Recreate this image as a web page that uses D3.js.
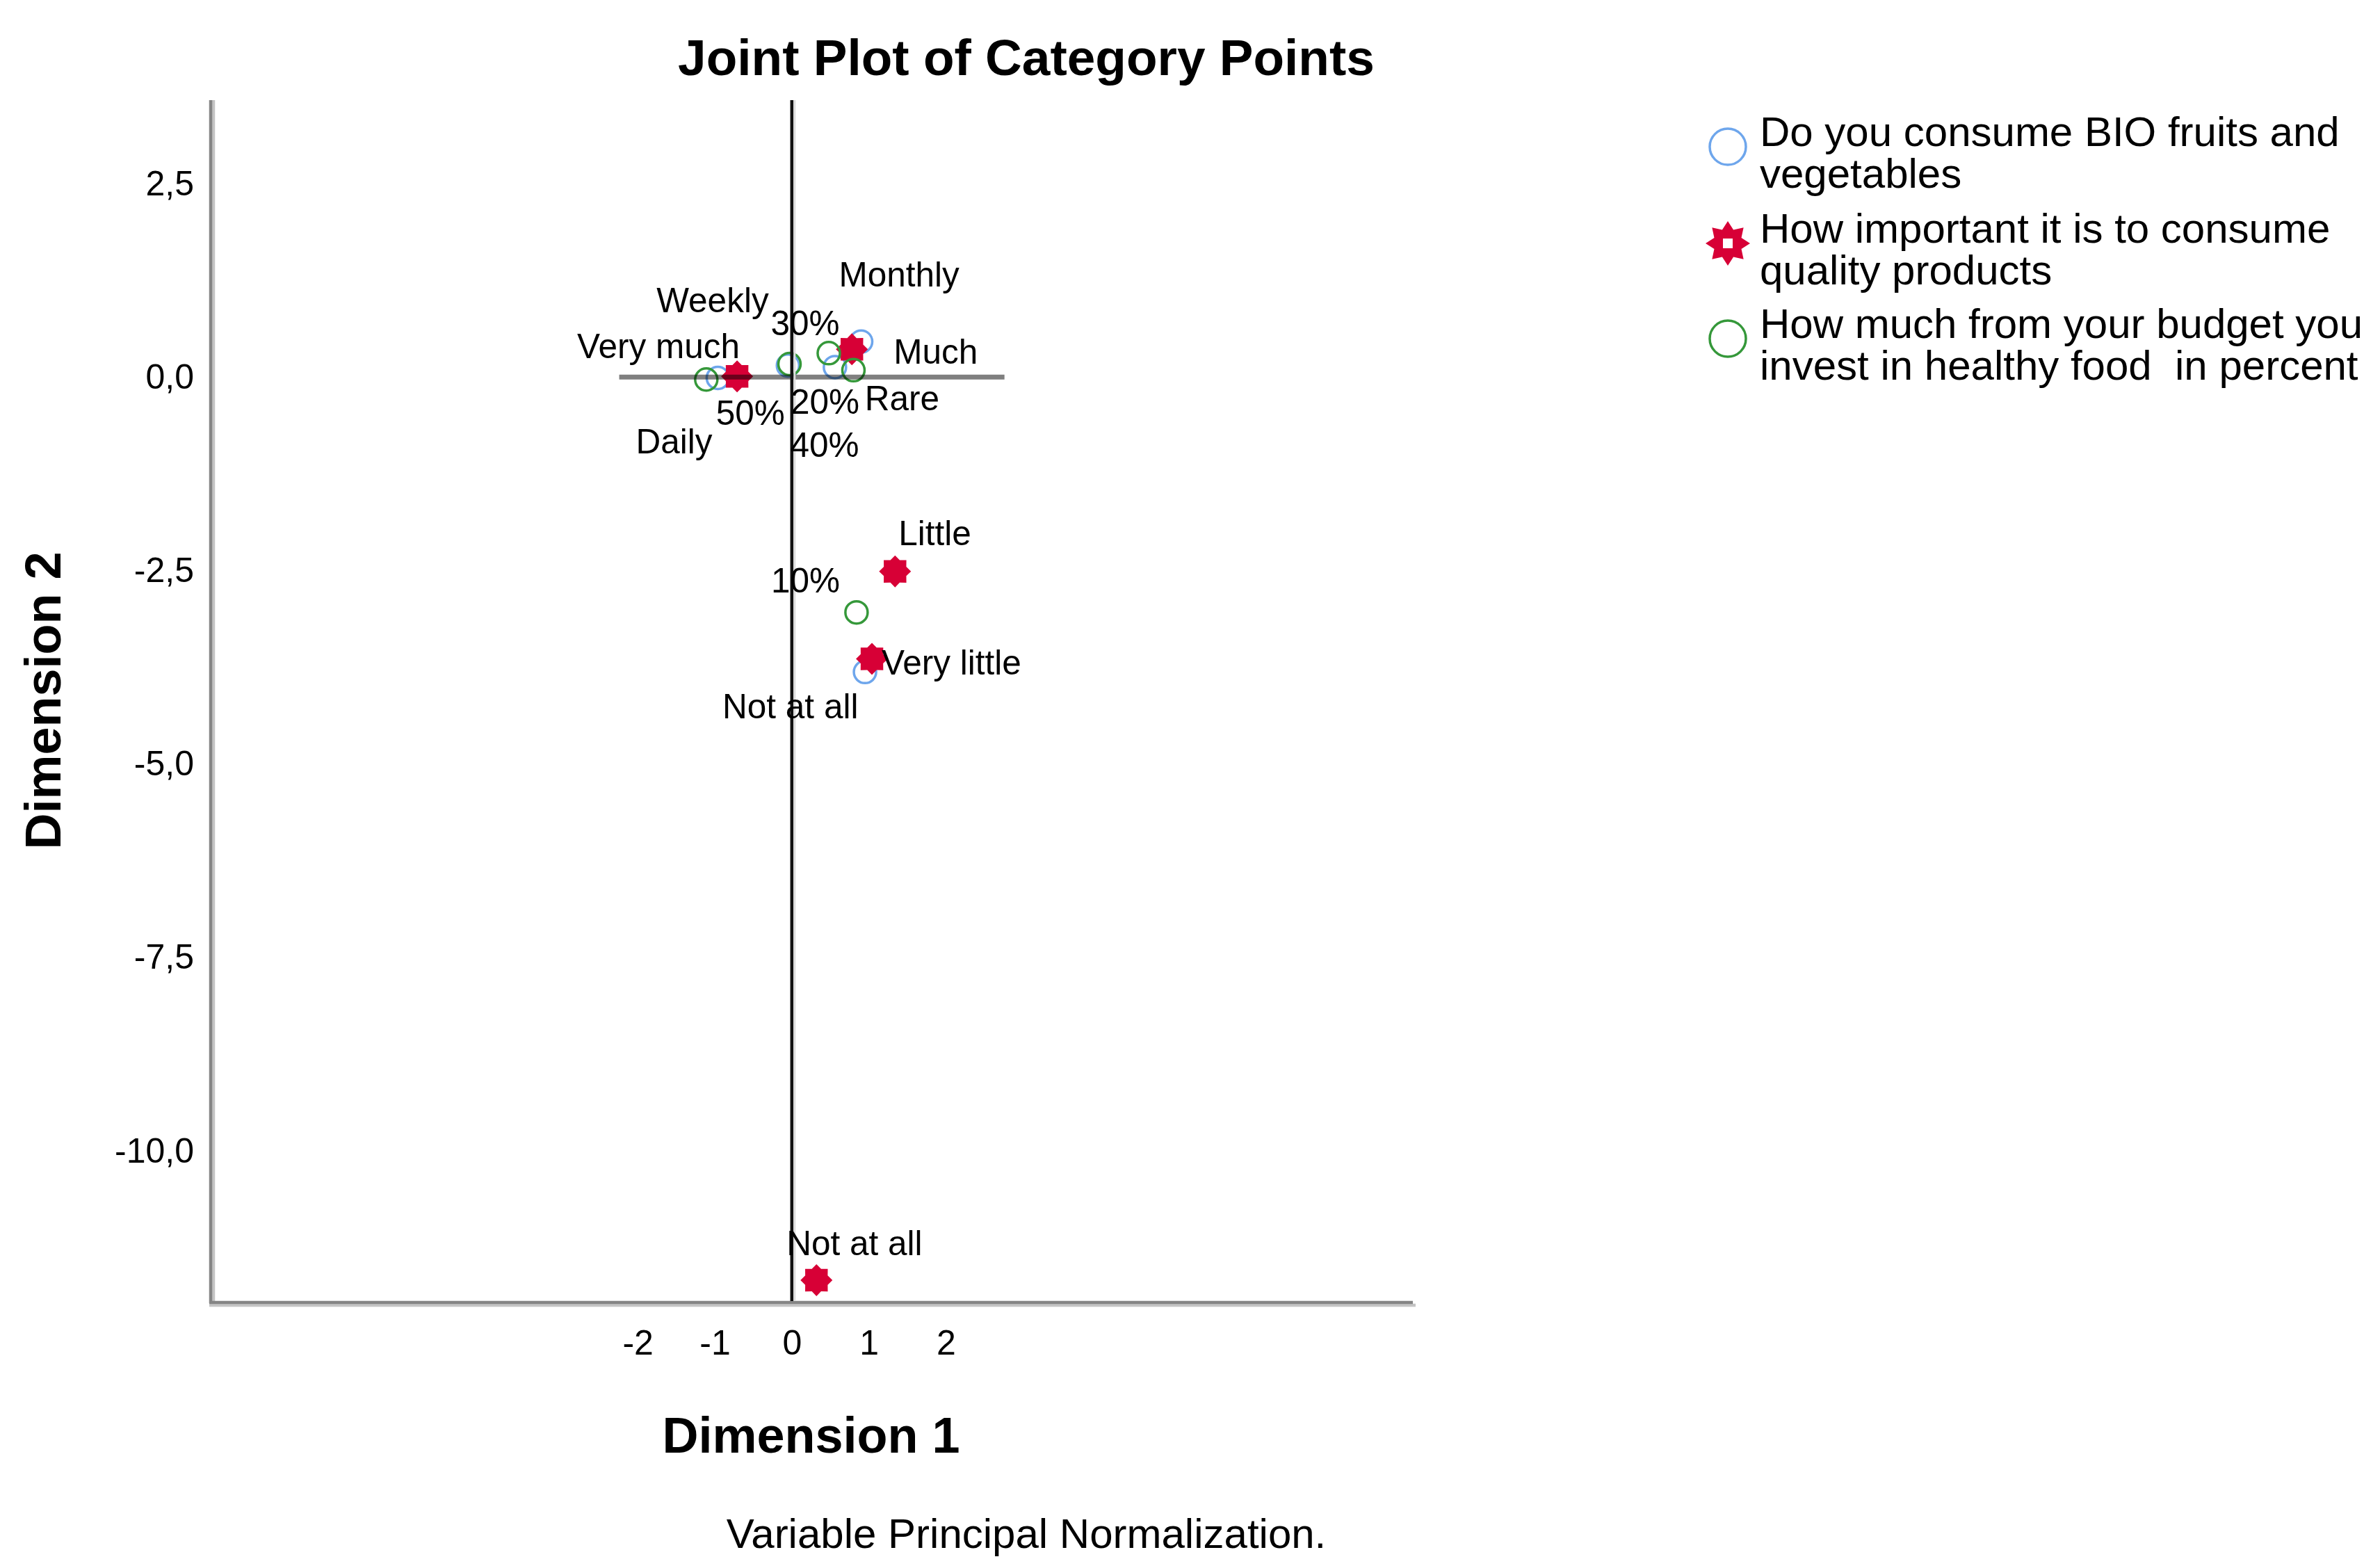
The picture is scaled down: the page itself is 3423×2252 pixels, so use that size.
<!DOCTYPE html>
<html>
<head>
<meta charset="utf-8">
<script src="https://cdn.jsdelivr.net/npm/d3@7"></script>
<style>
  body { margin: 0; background: #fff; }
  svg { display: block; font-family: "Liberation Sans", Arial, sans-serif; }
  text { white-space: pre; }
</style>
</head>
<body>
<script>
var width = 3423, height = 2252;

// Do you consume BIO fruits and vegetables
var bioCats = ["Daily", "Weekly", "Monthly", "Rare", "Not at all"];
var bioDim1 = [-0.96, -0.05, 0.90, 0.56, 0.95];
var bioDim2 = [-0.01, 0.15, 0.46, 0.13, -3.81];

// How important it is to consume quality products
var impCats = ["Very much", "Much", "Little", "Very little", "Not at all"];
var impDim1 = [-0.71, 0.78, 1.34, 1.04, 0.32];
var impDim2 = [0.01, 0.36, -2.51, -3.64, -11.67];

// How much from your budget you invest in healthy food in percent
var budCats = ["10%", "20%", "30%", "40%", "50%"];
var budDim1 = [0.84, 0.48, -0.03, 0.80, -1.11];
var budDim2 = [-3.04, 0.31, 0.17, 0.09, -0.03];

var xTicks = [-2, -1, 0, 1, 2];
var yTicks = [2.5, 0, -2.5, -5, -7.5, -10];
var xDomain = [-7.56, 8.06];
var yDomain = [-11.94, 3.58];
var refLineDim1 = [-2.24, 2.76];   // extent of the horizontal line at dimension 2 = 0

var legendLabels = [
    ["Do you consume BIO fruits and", "vegetables"],
    ["How important it is to consume", "quality products"],
    ["How much from your budget you", "invest in healthy food  in percent"]
];

// label placement (px from point: left edge, vertical centre) - SPSS put them by hand-ish
var bioLabelOff = [[-118, 91], [-189, -94], [-32, -97], [43, 44], [-205, 49]];
var impLabelOff = [[-230, -44], [60, 3], [5, -55], [14, 5], [-43, -54]];
var budLabelOff = [[-123, -46], [-55, 69], [-27, -59], [-91, 107], [14, 47]];

var blue = "#6ea6ec", red = "#d70036", green = "#35983a";

var plot = {left: 301, right: 2032, top: 144, bottom: 1871};

var svg = d3.select("body").append("svg")
    .attr("width", width)
    .attr("height", height);

var x = d3.scaleLinear().domain(xDomain).range([plot.left, plot.right]);
var y = d3.scaleLinear().domain(yDomain).range([plot.bottom, plot.top]);

// 8 pointed star marker
function starType(ratio) {
    return {
        draw: function(context, size) {
            var r = Math.sqrt(size / Math.PI);
            for (var i = 0; i < 16; i++) {
                var a = i * Math.PI / 8 - Math.PI / 2;
                var rr = i % 2 ? r * ratio : r;
                if (i == 0) context.moveTo(rr * Math.cos(a), rr * Math.sin(a));
                else context.lineTo(rr * Math.cos(a), rr * Math.sin(a));
            }
            context.closePath();
        }
    };
}

// title
svg.append("text")
    .attr("x", 1476).attr("y", 108)
    .attr("text-anchor", "middle")
    .attr("font-size", 73).attr("font-weight", "bold")
    .text("Joint Plot of Category Points");

// axes (no tick marks, only labels)
var yAxis = svg.append("g")
    .attr("transform", "translate(" + plot.left + ",0)")
    .call(d3.axisLeft(y).tickValues(yTicks).tickSize(0).tickPadding(22)
        .tickFormat(function(d) { return d.toFixed(1).replace(".", ","); }));
var xAxis = svg.append("g")
    .attr("transform", "translate(0," + plot.bottom + ")")
    .call(d3.axisBottom(x).tickValues(xTicks).tickSize(0).tickPadding(41)
        .tickFormat(function(d) { return String(d); }));
[yAxis, xAxis].forEach(function(a) {
    a.select(".domain").remove();
    a.selectAll("text").attr("font-size", 50).attr("font-family", "Liberation Sans, Arial").attr("fill", "#000");
});

// axis frame lines with light shadow
svg.append("line")
    .attr("x1", plot.left + 6).attr("x2", plot.left + 6)
    .attr("y1", y.range()[1]).attr("y2", plot.bottom + 7)
    .attr("stroke", "#c4c4c4").attr("stroke-width", 4.5);
svg.append("line")
    .attr("x1", plot.left).attr("x2", x.range()[1] + 4)
    .attr("y1", plot.bottom + 6).attr("y2", plot.bottom + 6)
    .attr("stroke", "#c4c4c4").attr("stroke-width", 4.5);
svg.append("line")
    .attr("x1", plot.left + 2).attr("x2", plot.left + 2)
    .attr("y1", y.range()[1]).attr("y2", plot.bottom + 3)
    .attr("stroke", "#858585").attr("stroke-width", 4.5);
svg.append("line")
    .attr("x1", plot.left).attr("x2", x.range()[1])
    .attr("y1", plot.bottom + 2).attr("y2", plot.bottom + 2)
    .attr("stroke", "#858585").attr("stroke-width", 4.5);

// axis titles
svg.append("text")
    .attr("x", (plot.left + plot.right) / 2).attr("y", 2089)
    .attr("text-anchor", "middle")
    .attr("font-size", 72).attr("font-weight", "bold")
    .text("Dimension 1");
svg.append("text")
    .attr("transform", "translate(87," + (plot.top + plot.bottom) / 2 + ") rotate(-90)")
    .attr("text-anchor", "middle")
    .attr("font-size", 72).attr("font-weight", "bold")
    .text("Dimension 2");

// footnote
svg.append("text")
    .attr("x", 1476).attr("y", 2226)
    .attr("text-anchor", "middle")
    .attr("font-size", 60)
    .text("Variable Principal Normalization.");

// points
function makeRows(cats, d1, d2, off) {
    return cats.map(function(c, i) {
        return {cat: c, d1: d1[i], d2: d2[i], off: off[i]};
    });
}
var bioRows = makeRows(bioCats, bioDim1, bioDim2, bioLabelOff);
var impRows = makeRows(impCats, impDim1, impDim2, impLabelOff);
var budRows = makeRows(budCats, budDim1, budDim2, budLabelOff);

var pts = svg.append("g");
pts.selectAll(".bio").data(bioRows).enter().append("circle")
    .attr("class", "bio")
    .attr("cx", function(d) { return x(d.d1); })
    .attr("cy", function(d) { return y(d.d2); })
    .attr("r", 16)
    .attr("fill", "none").attr("stroke", blue).attr("stroke-width", 3.5);

pts.selectAll(".imp").data(impRows).enter().append("path")
    .attr("class", "imp")
    .attr("transform", function(d) { return "translate(" + x(d.d1) + "," + y(d.d2) + ")"; })
    .attr("d", d3.symbol().type(starType(0.76)).size(Math.PI * 23 * 23))
    .attr("fill", red);

pts.selectAll(".bud").data(budRows).enter().append("circle")
    .attr("class", "bud")
    .attr("cx", function(d) { return x(d.d1); })
    .attr("cy", function(d) { return y(d.d2); })
    .attr("r", 16)
    .attr("fill", "none").attr("stroke", green).attr("stroke-width", 3.5);

// reference lines through the origin
svg.append("line")
    .attr("x1", x(refLineDim1[0])).attr("x2", x(refLineDim1[1]))
    .attr("y1", y(0)).attr("y2", y(0))
    .attr("stroke", "#000").attr("stroke-opacity", 0.5).attr("stroke-width", 7);
svg.append("line")
    .attr("x1", x(0) + 4).attr("x2", x(0) + 4)
    .attr("y1", y.range()[1]).attr("y2", plot.bottom)
    .attr("stroke", "#dcdcdc").attr("stroke-width", 3);
svg.append("line")
    .attr("x1", x(0)).attr("x2", x(0))
    .attr("y1", y.range()[1]).attr("y2", plot.bottom)
    .attr("stroke", "#111").attr("stroke-width", 4.5);

// category labels
var allRows = bioRows.concat(impRows, budRows);
svg.append("g").selectAll("text").data(allRows).enter().append("text")
    .attr("x", function(d) { return x(d.d1) + d.off[0]; })
    .attr("y", function(d) { return y(d.d2) + d.off[1]; })
    .attr("dy", "0.36em")
    .attr("font-size", 49.5)
    .text(function(d) { return d.cat; });

// legend
var legendY = [211, 350, 487];
var legend = svg.append("g").attr("transform", "translate(2485,0)");
legend.append("circle").attr("cx", 0).attr("cy", legendY[0]).attr("r", 26)
    .attr("fill", "none").attr("stroke", blue).attr("stroke-width", 3.5);
legend.append("path")
    .attr("transform", "translate(0," + legendY[1] + ")")
    .attr("d", d3.symbol().type(starType(0.66)).size(Math.PI * 32 * 32))
    .attr("fill", red);
legend.append("rect").attr("x", -7).attr("y", legendY[1] - 7).attr("width", 14).attr("height", 14)
    .attr("fill", "#fff");
legend.append("circle").attr("cx", 0).attr("cy", legendY[2]).attr("r", 26)
    .attr("fill", "none").attr("stroke", green).attr("stroke-width", 3.5);

legend.selectAll(".leg-text").data(legendLabels).enter().append("text")
    .attr("class", "leg-text")
    .attr("x", 46)
    .attr("y", function(d, i) { return legendY[i] - 1; })
    .attr("font-size", 60)
    .selectAll("tspan").data(function(d) { return d; }).enter().append("tspan")
    .attr("x", 46)
    .attr("dy", function(d, i) { return i == 0 ? 0 : 60; })
    .text(function(d) { return d; });
</script>
</body>
</html>
